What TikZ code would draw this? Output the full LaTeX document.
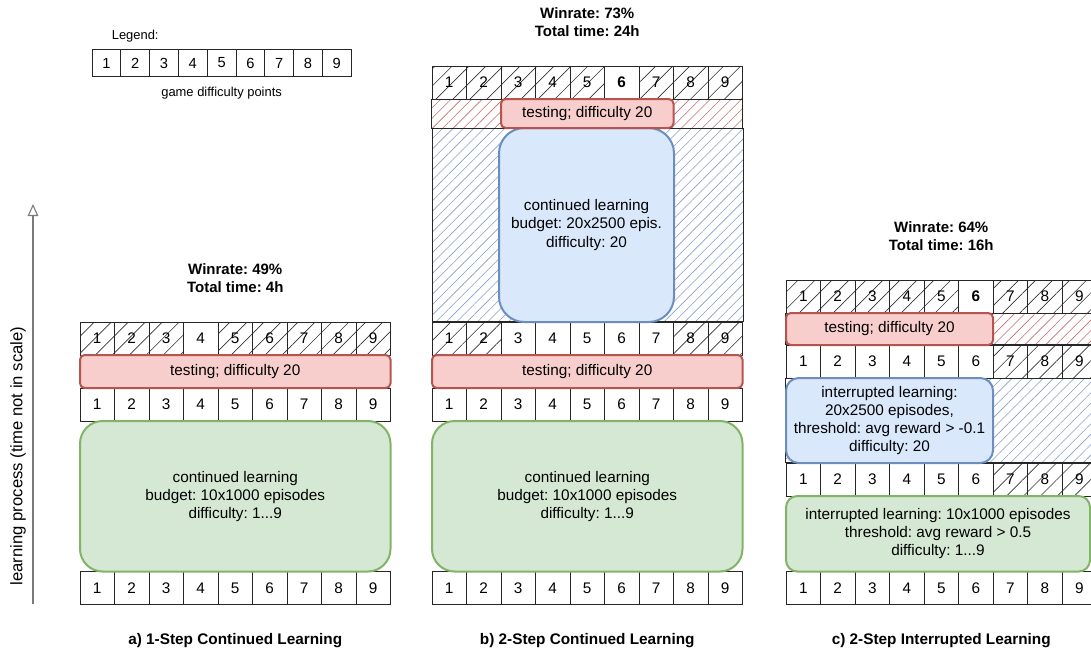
\documentclass[tikz,border=0pt]{standalone}
\usepackage{fontspec}
\setmainfont{Liberation Sans}
\usetikzlibrary{positioning, arrows.meta, fit, patterns.meta}

\definecolor{testfill}{HTML}{F8CECC}
\definecolor{testline}{HTML}{B85450}
\definecolor{hardfill}{HTML}{DAE8FC}
\definecolor{hardline}{HTML}{6C8EBF}
\definecolor{easyfill}{HTML}{D5E8D4}
\definecolor{easyline}{HTML}{82B366}
\definecolor{arrowgray}{HTML}{7A7A7A}

\begin{document}
\frenchspacing
\begin{tikzpicture}[
    x=0.75pt, y=-0.75pt,
    cell/.style     = {draw=black!85, line width=0.6pt, rectangle, minimum width=25.875pt, minimum height=24.75pt, inner sep=0pt, font=\fontsize{11.5}{12}\selectfont},
    hcell/.style    = {cell, pattern={Lines[angle=45, distance=9pt, line width=0.5pt]}, pattern color=black!80},
    bcell/.style    = {cell, font=\fontsize{11.5}{12}\selectfont\bfseries},
    legcell/.style  = {cell, minimum width=21.6pt, minimum height=20.5pt, font=\fontsize{11}{12}\selectfont},
    band/.style     = {draw=black!85, line width=0.6pt, inner sep=0pt},
    redband/.style  = {band, pattern={Lines[angle=45, distance=5.5pt, line width=0.45pt]}, pattern color=testline!85},
    blueband/.style = {band, pattern={Lines[angle=45, distance=5.5pt, line width=0.45pt]}, pattern color=hardline!85},
    boxsize/.style 2 args = {minimum width=#1*0.75pt, minimum height=#2*0.75pt},
    box/.style      = {line width=1.5pt, inner sep=0pt, align=center, font=\fontsize{11.5}{13.6}\selectfont},
    testbox/.style  = {box, draw=testline, fill=testfill, rounded corners=3.5pt},
    hardbox/.style  = {box, draw=hardline, fill=hardfill},
    easybox/.style  = {box, draw=easyline, fill=easyfill},
    title/.style    = {align=center, inner sep=0pt, font=\fontsize{11.25}{13.5}\selectfont\bfseries},
    caption/.style  = {inner sep=0pt, font=\fontsize{11.5}{13}\selectfont\bfseries},
    timearrow/.style= {-{Triangle[open, width=8pt, length=9pt, line width=0.8pt]}, line width=1.5pt, draw=arrowgray}
]
\useasboundingbox (0,0) rectangle (1091,654);

% Legend
\foreach \i in {1,...,9}
  \node[legcell] (leg\i) at ({92+28.8*(\i-0.5)}, 63) {\i};
\node[inner sep=0pt, font=\fontsize{9.7}{11}\selectfont, above=4.5pt of leg2] (legTitle) {Legend:};
\node[inner sep=0pt, font=\fontsize{9.7}{11}\selectfont, below=7.5pt of leg5] (legNote) {game difficulty points};

% Column a)
\foreach \i/\st in {1/hcell,2/hcell,3/hcell,4/cell,5/hcell,6/hcell,7/hcell,8/hcell,9/hcell}
  \node[\st] (aTop\i) at ({80+34.5*(\i-0.5)}, 338.5) {\i};
\foreach \i in {1,...,9}
  \node[cell] (aMid\i) at ({80+34.5*(\i-0.5)}, 404.5) {\i};
\foreach \i in {1,...,9}
  \node[cell] (aBot\i) at ({80+34.5*(\i-0.5)}, 588) {\i};

\node[testbox, boxsize={310.5}{33}] (aTest) at (235.25,371.5) {testing; difficulty 20};
\node[easybox, boxsize={310.5}{150.5}, rounded corners=17pt] (aEasy) at (235.25,496.25)
    {continued learning\\budget: 10x1000 episodes\\difficulty: 1...9};

\node[title, above=21.5pt of aTop5] (aTitle) {Winrate: 49\%\\Total time: 4h};
\node[caption, below=21pt of aBot5] (aCaption) {a) 1-Step Continued Learning};

% Column b)
\foreach \i/\st in {1/hcell,2/hcell,3/hcell,4/hcell,5/hcell,6/bcell,7/hcell,8/hcell,9/hcell}
  \node[\st] (bTop\i) at ({432+34.5*(\i-0.5)}, 82.5) {\i};
\foreach \i/\st in {1/hcell,2/hcell,3/cell,4/cell,5/cell,6/cell,7/cell,8/hcell,9/hcell}
  \node[\st] (bUp\i) at ({432+34.5*(\i-0.5)}, 338.5) {\i};
\foreach \i in {1,...,9}
  \node[cell] (bMid\i) at ({432+34.5*(\i-0.5)}, 404.5) {\i};
\foreach \i in {1,...,9}
  \node[cell] (bBot\i) at ({432+34.5*(\i-0.5)}, 588) {\i};

\node[redband, fit={(bTop1.south west) (742.5,128)}] (bRedBand) {};
\node[blueband, fit={(432,128) (bUp9.north east)}] (bBlueBand) {};
\node[hardbox, boxsize={175}{194}, rounded corners=19pt] (bHard) at (586.5,225)
    {continued learning\\budget: 20x2500 epis.\\difficulty: 20};
\node[testbox, boxsize={172.5}{29}] (bTestHard) at (587.25,113.5) {testing; difficulty 20};
\node[testbox, boxsize={310.5}{33}] (bTestEasy) at (587.25,371.5) {testing; difficulty 20};
\node[easybox, boxsize={310.5}{150.5}, rounded corners=17pt] (bEasy) at (587.25,496.25)
    {continued learning\\budget: 10x1000 episodes\\difficulty: 1...9};

\node[title, above=21.5pt of bTop5] (bTitle) {Winrate: 73\%\\Total time: 24h};
\node[caption, below=21pt of bBot5] (bCaption) {b) 2-Step Continued Learning};

% Column c)
\foreach \i/\st in {1/hcell,2/hcell,3/hcell,4/hcell,5/hcell,6/bcell,7/hcell,8/hcell,9/hcell}
  \node[\st] (cTop\i) at ({786+34.5*(\i-0.5)}, 296.5) {\i};
\foreach \i/\st in {1/cell,2/cell,3/cell,4/cell,5/cell,6/cell,7/hcell,8/hcell,9/hcell}
  \node[\st] (cUp\i) at ({786+34.5*(\i-0.5)}, 361.5) {\i};
\foreach \i/\st in {1/cell,2/cell,3/cell,4/cell,5/cell,6/cell,7/hcell,8/hcell,9/hcell}
  \node[\st] (cMid\i) at ({786+34.5*(\i-0.5)}, 479.5) {\i};
\foreach \i in {1,...,9}
  \node[cell] (cBot\i) at ({786+34.5*(\i-0.5)}, 588) {\i};

\node[redband, fit={(cTop1.south west) (cUp9.north east)}] (cRedBand) {};
\node[testbox, boxsize={207}{32}] (cTestHard) at (889.5,329) {testing; difficulty 20};
\node[blueband, fit={(cUp1.south west) (cMid9.north east)}] (cBlueBand) {};
\node[hardbox, boxsize={207}{85}, rounded corners=9.5pt] (cHard) at (889.5,420.5)
    {interrupted learning:\\20x2500 episodes,\\threshold: avg reward > -0.1\\difficulty: 20};
\node[easybox, boxsize={304}{75.5}, rounded corners=8.5pt] (cEasy) at (938,533.75)
    {interrupted learning: 10x1000 episodes\\threshold: avg reward > 0.5\\difficulty: 1...9};

\node[title, above=21.5pt of cTop5] (cTitle) {Winrate: 64\%\\Total time: 16h};
\node[caption, below=21pt of cBot5] (cCaption) {c) 2-Step Interrupted Learning};

% Time axis
\coordinate (timeStart) at (33,604);
\coordinate (timeEnd)   at (33,204);
\draw[timearrow] (timeStart) -- (timeEnd);
\node[rotate=90, inner sep=0pt, font=\fontsize{12.5}{14}\selectfont] (timeLabel) at (18,456)
    {learning process (time not in scale)};

\end{tikzpicture}
\end{document}
